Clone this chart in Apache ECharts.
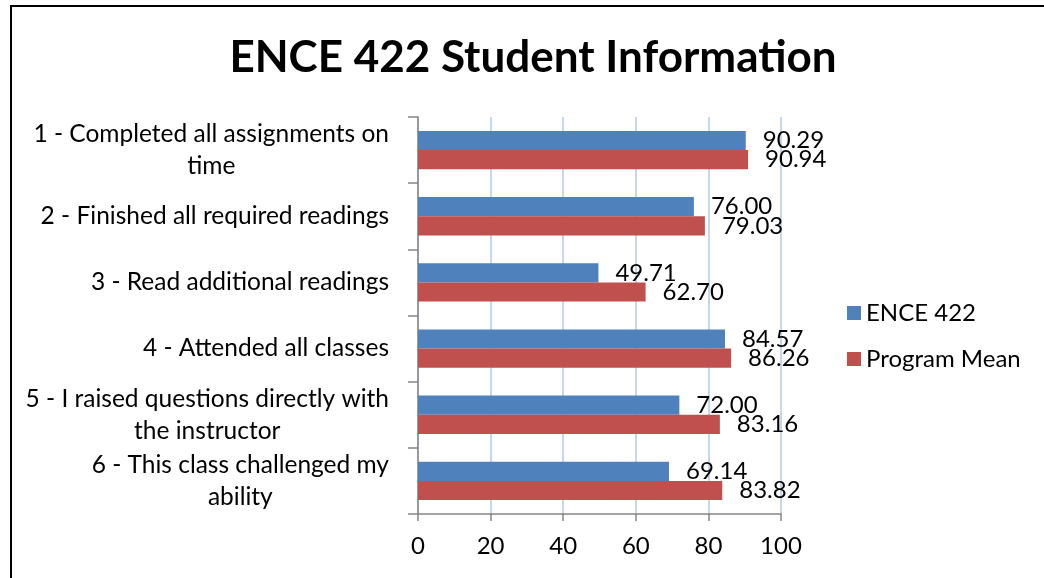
<!DOCTYPE html>
<html>
<head>
<meta charset="utf-8">
<script src="https://cdn.jsdelivr.net/npm/echarts@6/dist/echarts.min.js"></script>
<style>
html,body{margin:0;padding:0;background:#fff;}
#c{width:1044px;height:578px;}
</style>
</head>
<body>
<div id="c"></div>
<script>
var categories = [
  "1 - Completed all assignments on\ntime",
  "2 - Finished all required readings",
  "3 - Read additional readings",
  "4 - Attended all classes",
  "5 - I raised questions directly with\nthe instructor",
  "6 - This class challenged my\nability"
];
var ence422 = [90.29, 76.00, 49.71, 84.57, 72.00, 69.14];
var programMean = [90.94, 79.03, 62.70, 86.26, 83.16, 83.82];
var xTicks = [0, 20, 40, 60, 80, 100];

var FONT = 'Lato';
var chart = echarts.init(document.getElementById('c'));
chart.setOption({
  animation: false,
  backgroundColor: '#fff',
  textStyle: {fontFamily: FONT},
  graphic: [{
    type: 'rect',
    shape: {x: 11, y: 6, width: 1200, height: 800},
    style: {fill: 'none', stroke: '#000', lineWidth: 2},
    silent: true, z: -1
  }],
  title: {
    text: 'ENCE 422 Student Information',
    left: 528, top: 31, textAlign: 'center',
    textStyle: {fontFamily: FONT, fontWeight: 'bold', fontSize: 44, color: '#000'}
  },
  legend: {
    orient: 'vertical',
    left: 842, top: 295,
    itemWidth: 14, itemHeight: 14, itemGap: 20,
    icon: 'rect',
    textStyle: {fontFamily: FONT, fontSize: 24, color: '#000', lineHeight: 26},
    data: ['ENCE 422', 'Program Mean']
  },
  grid: {left: 418, top: 117, width: 363, height: 397, containLabel: false},
  xAxis: {
    type: 'value', min: xTicks[0], max: xTicks[xTicks.length - 1], interval: 20,
    axisLine: {show: true, lineStyle: {color: '#868686', width: 1.5}},
    axisTick: {show: true, length: 7, lineStyle: {color: '#868686', width: 1.5}},
    axisLabel: {color: '#000', fontSize: 24, margin: 20, fontFamily: FONT},
    splitLine: {show: true, lineStyle: {color: '#b4c9ea', width: 1.5}}
  },
  yAxis: {
    type: 'category', inverse: true, data: categories,
    axisLine: {show: true, lineStyle: {color: '#868686', width: 1.5}},
    axisTick: {show: true, length: 10, lineStyle: {color: '#868686', width: 1.5}},
    axisLabel: {
      color: '#000', margin: 29, fontFamily: FONT,
      formatter: function (v) {
        return v.split('\n').map(function (s) { return '{a|' + s + '}'; }).join('\n');
      },
      rich: {a: {align: 'center', fontSize: 24.5, lineHeight: 32, fontFamily: FONT, color: '#000'}}
    }
  },
  series: [{
    name: 'ENCE 422', type: 'bar', data: ence422,
    barGap: '0%', barCategoryGap: '42%',
    itemStyle: {color: '#4f81bd'},
    label: {show: true, position: 'right', distance: 17, color: '#000', fontSize: 24, fontFamily: FONT,
      formatter: function (p) { return p.value.toFixed(2); }}
  }, {
    name: 'Program Mean', type: 'bar', data: programMean,
    barGap: '0%', barCategoryGap: '42%',
    itemStyle: {color: '#c0504d'},
    label: {show: true, position: 'right', distance: 17, color: '#000', fontSize: 24, fontFamily: FONT,
      formatter: function (p) { return p.value.toFixed(2); }}
  }]
});
</script>
</body>
</html>
